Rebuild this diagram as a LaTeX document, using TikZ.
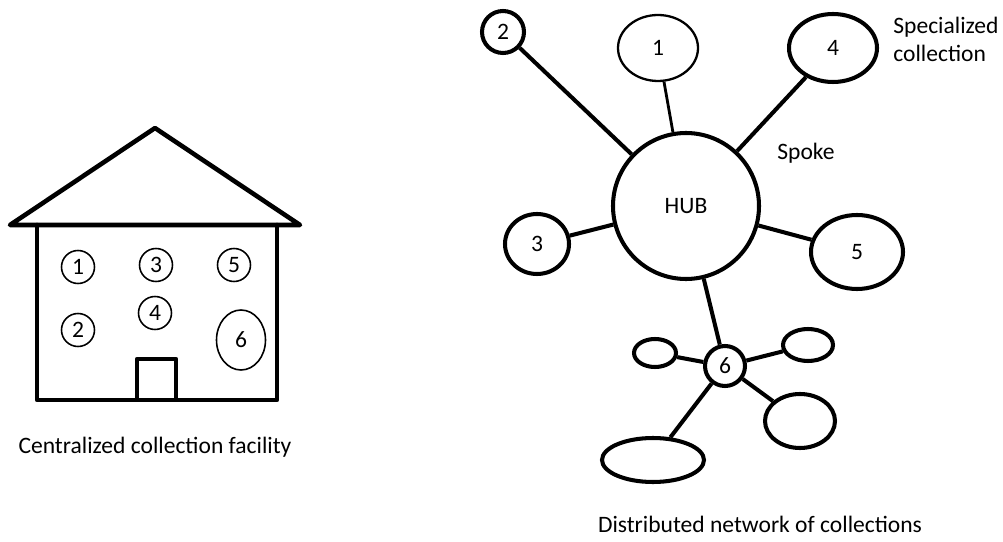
\documentclass[tikz,border=0pt]{standalone}
\usepackage{fontspec}
\setmainfont{Carlito}
\usetikzlibrary{shapes.geometric}
\newcommand{\picfont}{\fontsize{13.4}{16}\selectfont}
\begin{document}
\begin{tikzpicture}[
    wall/.style={line width=2.6pt, line join=round, line cap=round},
    room/.style={draw, circle, line width=0.9pt, minimum size=0.66cm, inner sep=0pt, font=\picfont},
    coll/.style={draw, ellipse, line width=2.3pt, inner sep=0pt, font=\picfont},
    spoke/.style={line width=2.3pt},
    lbl/.style={font=\picfont}
]
\useasboundingbox (0,0) rectangle (20.06,10.82);
% house
\draw[wall] (0.20,6.32) -- (3.10,8.26) -- (6.00,6.32) -- cycle;
\draw[wall] (0.74,6.32) -- (0.74,2.82) -- (5.54,2.82) -- (5.54,6.32);
\draw[wall] (2.74,2.82) rectangle (3.52,3.64);
\node[room] (r1) at (1.56,5.48) {1};
\node[room] (r3) at (3.12,5.52) {3};
\node[room] (r5) at (4.68,5.52) {5};
\node[room] (r2) at (1.56,4.22) {2};
\node[room] (r4) at (3.10,4.56) {4};
\node[room, ellipse, minimum width=0.98cm, minimum height=1.2cm] (r6) at (4.82,4.02) {6};
\node[lbl] (cap1) at (3.10,1.88) {Centralized collection facility};
% network
\node[coll, circle, minimum size=2.92cm] (hub) at (13.72,6.70) {HUB};
\node[coll, circle, minimum size=0.84cm] (n2) at (10.06,10.18) {2};
\node[coll, line width=1.3pt, minimum width=1.6cm, minimum height=1.32cm] (n1) at (13.16,9.86) {1};
\node[coll, minimum width=1.76cm, minimum height=1.36cm] (n4) at (16.66,9.86) {4};
\node[coll, minimum width=1.28cm, minimum height=1.2cm] (n3) at (10.74,5.94) {3};
\node[coll, minimum width=1.84cm, minimum height=1.48cm] (n5) at (17.14,5.78) {5};
\node[coll, circle, minimum size=0.8cm] (n6) at (14.50,3.50) {6};
\node[coll, minimum width=0.84cm, minimum height=0.56cm] (sa) at (13.10,3.76) {};
\node[coll, minimum width=1.0cm, minimum height=0.64cm] (sb) at (16.16,3.92) {};
\node[coll, minimum width=1.4cm, minimum height=1.08cm] (sc) at (16.00,2.40) {};
\node[coll, minimum width=2.04cm, minimum height=0.88cm] (sd) at (13.06,1.62) {};
\draw[spoke] (hub) -- (n2);
\draw[spoke, line width=1.6pt] (hub) -- (n1);
\draw[spoke] (hub) -- (n4);
\draw[spoke] (hub) -- (n3);
\draw[spoke] (hub) -- (n5);
\draw[spoke] (hub) -- (n6);
\draw[spoke] (n6) -- (sa);
\draw[spoke] (n6) -- (sb);
\draw[spoke] (n6) -- (sc);
\draw[spoke] (n6) -- (sd);
\node[lbl, anchor=west, align=left, inner sep=0pt] (spec) at (17.86,10.04) {Specialized\\collection};
\node[lbl] (spk) at (16.12,7.76) {Spoke};
\node[lbl] (cap2) at (15.20,0.34) {Distributed network of collections};
\end{tikzpicture}
\end{document}
